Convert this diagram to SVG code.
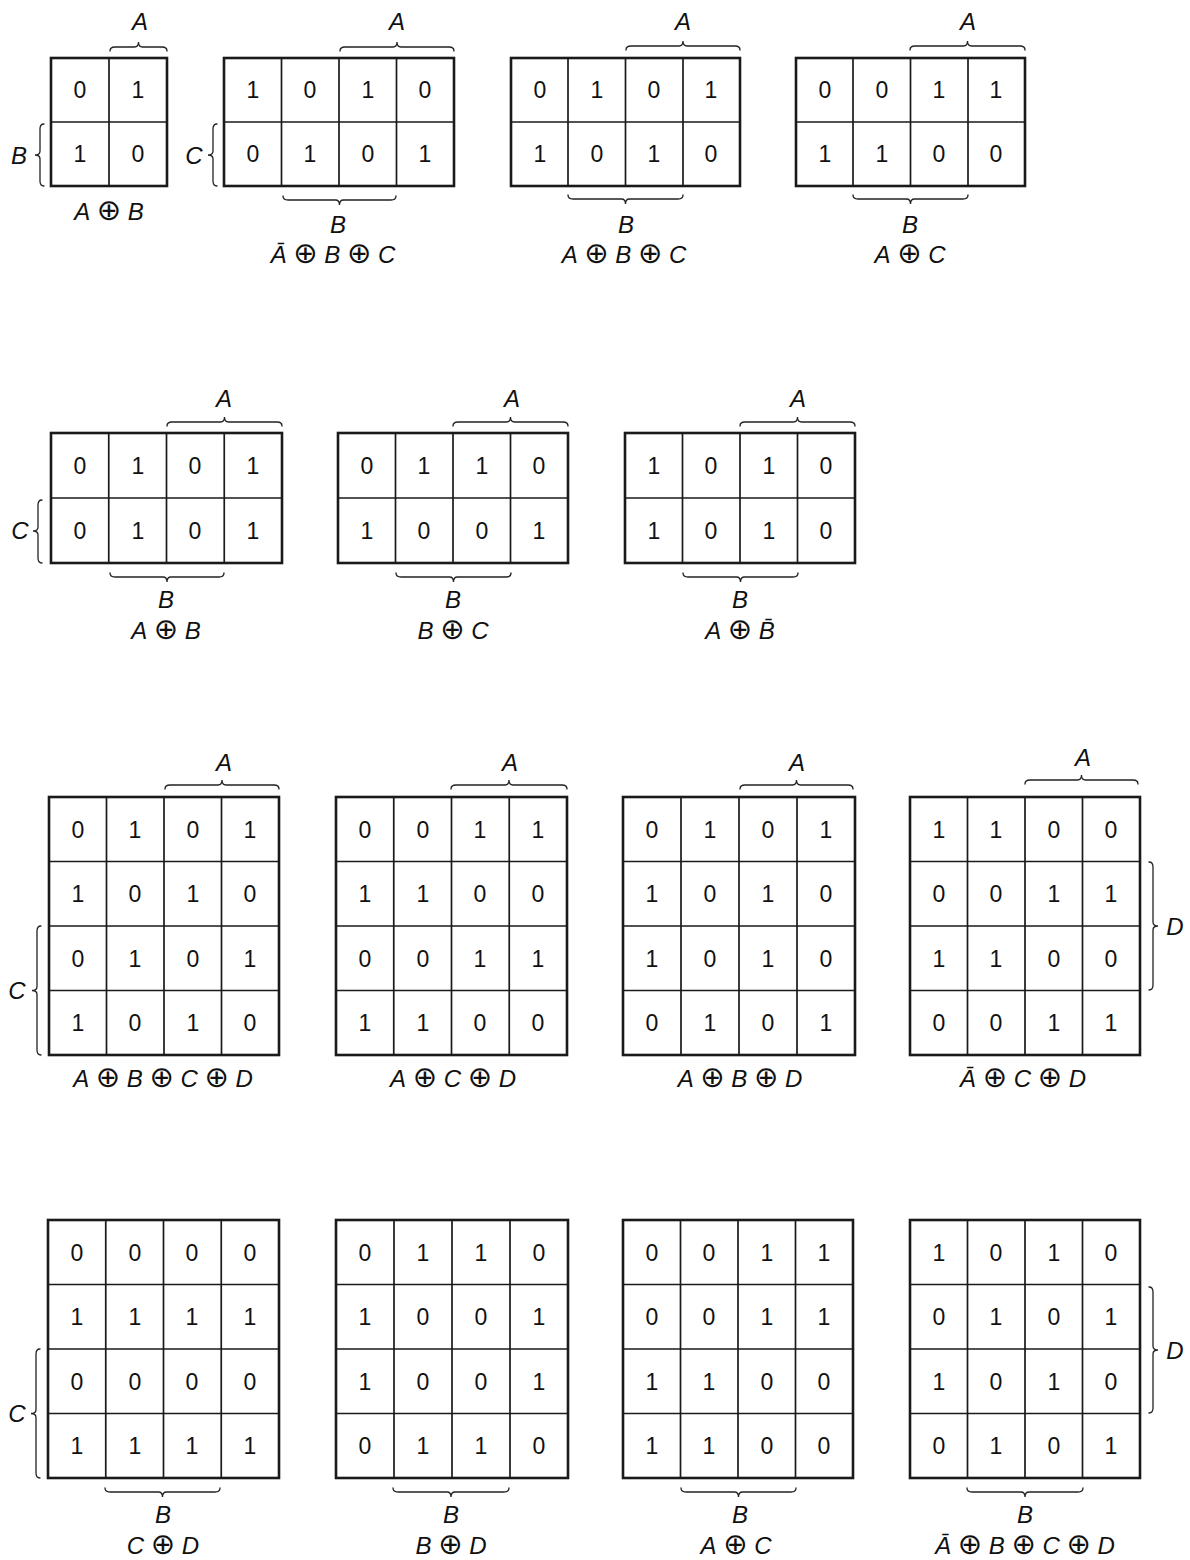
<svg xmlns="http://www.w3.org/2000/svg" width="1190" height="1560" viewBox="0 0 1190 1560">
<style>
.bg{fill:#fff}
.o{fill:none;stroke:#1a1a1a;stroke-width:2.6}
.g{fill:none;stroke:#1a1a1a;stroke-width:1.7}
.br{fill:none;stroke:#222;stroke-width:1.3;stroke-linecap:round}
.d{font-family:"Liberation Sans","DejaVu Sans",sans-serif;font-size:23px;fill:#111;text-anchor:middle}
.l{font-family:"Liberation Sans","DejaVu Sans",sans-serif;font-size:24px;font-style:italic;fill:#111;text-anchor:middle}
.f{font-family:"Liberation Sans","DejaVu Sans",sans-serif;font-size:24px;fill:#111;text-anchor:middle}
.i{font-style:italic}
.x{font-family:"DejaVu Sans",sans-serif;font-style:normal;font-size:29px}
</style>
<rect class="bg" width="1190" height="1560"/>

<g id="map-1">
<rect class="o" x="51" y="58" width="116" height="128"/>
<path class="g" d="M109 58V186M51 122H167"/>
<text class="d" x="80" y="98">0</text><text class="d" x="138" y="98">1</text>
<text class="d" x="80" y="162">1</text><text class="d" x="138" y="162">0</text>
<path class="br" d="M110 51q0-4 5-4H134.5q4 0 4-5q0 5 4 5H162q5 0 5 4"/>
<text class="l" x="140" y="30">A</text>
<path class="br" d="M44 124q-4 0-4 5V151q0 4-5 4q5 0 5 4V181q0 5 4 5"/>
<text class="l" x="19" y="164">B</text>
<text class="f" x="109" y="220"><tspan class="i">A</tspan> <tspan class="x">⊕</tspan> <tspan class="i">B</tspan></text>
</g>

<g id="map-2">
<rect class="o" x="224" y="58" width="230" height="128"/>
<path class="g" d="M281.5 58V186M339 58V186M396.5 58V186M224 122H454"/>
<text class="d" x="253" y="98">1</text><text class="d" x="310" y="98">0</text><text class="d" x="368" y="98">1</text><text class="d" x="425" y="98">0</text>
<text class="d" x="253" y="162">0</text><text class="d" x="310" y="162">1</text><text class="d" x="368" y="162">0</text><text class="d" x="425" y="162">1</text>
<path class="br" d="M340 51q0-4 5-4H393q4 0 4-5q0 5 4 5H449q5 0 5 4"/>
<text class="l" x="397" y="30">A</text>
<path class="br" d="M217 124q-4 0-4 5V151q0 4-5 4q5 0 5 4V181q0 5 4 5"/>
<text class="l" x="194" y="164">C</text>
<path class="br" d="M283 196q0 4 5 4H335.5q4 0 4 5q0-5 4-5H391q5 0 5-4"/>
<text class="l" x="338" y="233">B</text>
<text class="f" x="333" y="263"><tspan class="i">Ā</tspan> <tspan class="x">⊕</tspan> <tspan class="i">B</tspan> <tspan class="x">⊕</tspan> <tspan class="i">C</tspan></text>
</g>

<g id="map-3">
<rect class="o" x="511" y="58" width="229" height="128"/>
<path class="g" d="M568 58V186M625.5 58V186M683 58V186M511 122H740"/>
<text class="d" x="540" y="98">0</text><text class="d" x="597" y="98">1</text><text class="d" x="654" y="98">0</text><text class="d" x="711" y="98">1</text>
<text class="d" x="540" y="162">1</text><text class="d" x="597" y="162">0</text><text class="d" x="654" y="162">1</text><text class="d" x="711" y="162">0</text>
<path class="br" d="M626 50q0-4 5-4H679q4 0 4-5q0 5 4 5H735q5 0 5 4"/>
<text class="l" x="683" y="30">A</text>
<path class="br" d="M568 195q0 4 5 4H621.5q4 0 4 5q0-5 4-5H678q5 0 5-4"/>
<text class="l" x="626" y="233">B</text>
<text class="f" x="624" y="263"><tspan class="i">A</tspan> <tspan class="x">⊕</tspan> <tspan class="i">B</tspan> <tspan class="x">⊕</tspan> <tspan class="i">C</tspan></text>
</g>

<g id="map-4">
<rect class="o" x="796" y="58" width="229" height="128"/>
<path class="g" d="M853 58V186M910.5 58V186M968 58V186M796 122H1025"/>
<text class="d" x="825" y="98">0</text><text class="d" x="882" y="98">0</text><text class="d" x="939" y="98">1</text><text class="d" x="996" y="98">1</text>
<text class="d" x="825" y="162">1</text><text class="d" x="882" y="162">1</text><text class="d" x="939" y="162">0</text><text class="d" x="996" y="162">0</text>
<path class="br" d="M910 50q0-4 5-4H963.5q4 0 4-5q0 5 4 5H1020q5 0 5 4"/>
<text class="l" x="968" y="30">A</text>
<path class="br" d="M853 195q0 4 5 4H906.5q4 0 4 5q0-5 4-5H963q5 0 5-4"/>
<text class="l" x="910" y="233">B</text>
<text class="f" x="910" y="263"><tspan class="i">A</tspan> <tspan class="x">⊕</tspan> <tspan class="i">C</tspan></text>
</g>

<g id="map-5">
<rect class="o" x="51" y="433" width="231" height="130"/>
<path class="g" d="M108.75 433V563M166.5 433V563M224.25 433V563M51 498H282"/>
<text class="d" x="80" y="474">0</text><text class="d" x="138" y="474">1</text><text class="d" x="195" y="474">0</text><text class="d" x="253" y="474">1</text>
<text class="d" x="80" y="539">0</text><text class="d" x="138" y="539">1</text><text class="d" x="195" y="539">0</text><text class="d" x="253" y="539">1</text>
<path class="br" d="M167 426q0-4 5-4H220.5q4 0 4-5q0 5 4 5H277q5 0 5 4"/>
<text class="l" x="224" y="407">A</text>
<path class="br" d="M42 500q-4 0-4 5V527q0 4-5 4q5 0 5 4V558q0 5 4 5"/>
<text class="l" x="20" y="539">C</text>
<path class="br" d="M110 573q0 4 5 4H163q4 0 4 5q0-5 4-5H219q5 0 5-4"/>
<text class="l" x="166" y="608">B</text>
<text class="f" x="166" y="639"><tspan class="i">A</tspan> <tspan class="x">⊕</tspan> <tspan class="i">B</tspan></text>
</g>

<g id="map-6">
<rect class="o" x="338" y="433" width="230" height="130"/>
<path class="g" d="M395.5 433V563M453 433V563M510.5 433V563M338 498H568"/>
<text class="d" x="367" y="474">0</text><text class="d" x="424" y="474">1</text><text class="d" x="482" y="474">1</text><text class="d" x="539" y="474">0</text>
<text class="d" x="367" y="539">1</text><text class="d" x="424" y="539">0</text><text class="d" x="482" y="539">0</text><text class="d" x="539" y="539">1</text>
<path class="br" d="M453 426q0-4 5-4H506.5q4 0 4-5q0 5 4 5H563q5 0 5 4"/>
<text class="l" x="512" y="407">A</text>
<path class="br" d="M396 573q0 4 5 4H449.5q4 0 4 5q0-5 4-5H506q5 0 5-4"/>
<text class="l" x="453" y="608">B</text>
<text class="f" x="453" y="639"><tspan class="i">B</tspan> <tspan class="x">⊕</tspan> <tspan class="i">C</tspan></text>
</g>

<g id="map-7">
<rect class="o" x="625" y="433" width="230" height="130"/>
<path class="g" d="M682.5 433V563M740 433V563M797.5 433V563M625 498H855"/>
<text class="d" x="654" y="474">1</text><text class="d" x="711" y="474">0</text><text class="d" x="769" y="474">1</text><text class="d" x="826" y="474">0</text>
<text class="d" x="654" y="539">1</text><text class="d" x="711" y="539">0</text><text class="d" x="769" y="539">1</text><text class="d" x="826" y="539">0</text>
<path class="br" d="M740 426q0-4 5-4H793.5q4 0 4-5q0 5 4 5H850q5 0 5 4"/>
<text class="l" x="798" y="407">A</text>
<path class="br" d="M683 573q0 4 5 4H736.5q4 0 4 5q0-5 4-5H793q5 0 5-4"/>
<text class="l" x="740" y="608">B</text>
<text class="f" x="740" y="639"><tspan class="i">A</tspan> <tspan class="x">⊕</tspan> <tspan class="i">B̄</tspan></text>
</g>

<g id="map-8">
<rect class="o" x="49" y="797" width="230" height="258"/>
<path class="g" d="M106.5 797V1055M164 797V1055M221.5 797V1055M49 861.5H279M49 926H279M49 990.5H279"/>
<text class="d" x="78" y="838">0</text><text class="d" x="135" y="838">1</text><text class="d" x="193" y="838">0</text><text class="d" x="250" y="838">1</text>
<text class="d" x="78" y="902">1</text><text class="d" x="135" y="902">0</text><text class="d" x="193" y="902">1</text><text class="d" x="250" y="902">0</text>
<text class="d" x="78" y="967">0</text><text class="d" x="135" y="967">1</text><text class="d" x="193" y="967">0</text><text class="d" x="250" y="967">1</text>
<text class="d" x="78" y="1031">1</text><text class="d" x="135" y="1031">0</text><text class="d" x="193" y="1031">1</text><text class="d" x="250" y="1031">0</text>
<path class="br" d="M165 789q0-4 5-4H218q4 0 4-5q0 5 4 5H274q5 0 5 4"/>
<text class="l" x="224" y="771">A</text>
<path class="br" d="M41 926q-4 0-4 5V986.5q0 4-5 4q5 0 5 4V1050q0 5 4 5"/>
<text class="l" x="17" y="999">C</text>
<text class="f" x="163" y="1087"><tspan class="i">A</tspan> <tspan class="x">⊕</tspan> <tspan class="i">B</tspan> <tspan class="x">⊕</tspan> <tspan class="i">C</tspan> <tspan class="x">⊕</tspan> <tspan class="i">D</tspan></text>
</g>

<g id="map-9">
<rect class="o" x="336" y="797" width="231" height="258"/>
<path class="g" d="M393.75 797V1055M451.5 797V1055M509.25 797V1055M336 861.5H567M336 926H567M336 990.5H567"/>
<text class="d" x="365" y="838">0</text><text class="d" x="423" y="838">0</text><text class="d" x="480" y="838">1</text><text class="d" x="538" y="838">1</text>
<text class="d" x="365" y="902">1</text><text class="d" x="423" y="902">1</text><text class="d" x="480" y="902">0</text><text class="d" x="538" y="902">0</text>
<text class="d" x="365" y="967">0</text><text class="d" x="423" y="967">0</text><text class="d" x="480" y="967">1</text><text class="d" x="538" y="967">1</text>
<text class="d" x="365" y="1031">1</text><text class="d" x="423" y="1031">1</text><text class="d" x="480" y="1031">0</text><text class="d" x="538" y="1031">0</text>
<path class="br" d="M451 789q0-4 5-4H505q4 0 4-5q0 5 4 5H562q5 0 5 4"/>
<text class="l" x="510" y="771">A</text>
<text class="f" x="453" y="1087"><tspan class="i">A</tspan> <tspan class="x">⊕</tspan> <tspan class="i">C</tspan> <tspan class="x">⊕</tspan> <tspan class="i">D</tspan></text>
</g>

<g id="map-10">
<rect class="o" x="623" y="797" width="232" height="258"/>
<path class="g" d="M681 797V1055M739 797V1055M797 797V1055M623 861.5H855M623 926H855M623 990.5H855"/>
<text class="d" x="652" y="838">0</text><text class="d" x="710" y="838">1</text><text class="d" x="768" y="838">0</text><text class="d" x="826" y="838">1</text>
<text class="d" x="652" y="902">1</text><text class="d" x="710" y="902">0</text><text class="d" x="768" y="902">1</text><text class="d" x="826" y="902">0</text>
<text class="d" x="652" y="967">1</text><text class="d" x="710" y="967">0</text><text class="d" x="768" y="967">1</text><text class="d" x="826" y="967">0</text>
<text class="d" x="652" y="1031">0</text><text class="d" x="710" y="1031">1</text><text class="d" x="768" y="1031">0</text><text class="d" x="826" y="1031">1</text>
<path class="br" d="M740 789q0-4 5-4H792.5q4 0 4-5q0 5 4 5H848q5 0 5 4"/>
<text class="l" x="797" y="771">A</text>
<text class="f" x="740" y="1087"><tspan class="i">A</tspan> <tspan class="x">⊕</tspan> <tspan class="i">B</tspan> <tspan class="x">⊕</tspan> <tspan class="i">D</tspan></text>
</g>

<g id="map-11">
<rect class="o" x="910" y="797" width="230" height="258"/>
<path class="g" d="M967.5 797V1055M1025 797V1055M1082.5 797V1055M910 861.5H1140M910 926H1140M910 990.5H1140"/>
<text class="d" x="939" y="838">1</text><text class="d" x="996" y="838">1</text><text class="d" x="1054" y="838">0</text><text class="d" x="1111" y="838">0</text>
<text class="d" x="939" y="902">0</text><text class="d" x="996" y="902">0</text><text class="d" x="1054" y="902">1</text><text class="d" x="1111" y="902">1</text>
<text class="d" x="939" y="967">1</text><text class="d" x="996" y="967">1</text><text class="d" x="1054" y="967">0</text><text class="d" x="1111" y="967">0</text>
<text class="d" x="939" y="1031">0</text><text class="d" x="996" y="1031">0</text><text class="d" x="1054" y="1031">1</text><text class="d" x="1111" y="1031">1</text>
<path class="br" d="M1025 784q0-4 5-4H1077.5q4 0 4-5q0 5 4 5H1133q5 0 5 4"/>
<text class="l" x="1083" y="766">A</text>
<path class="br" d="M1149 862q4 0 4 5V922q0 4 5 4q-5 0-5 4V985q0 5-4 5"/>
<text class="l" x="1175" y="935">D</text>
<text class="f" x="1023" y="1087"><tspan class="i">Ā</tspan> <tspan class="x">⊕</tspan> <tspan class="i">C</tspan> <tspan class="x">⊕</tspan> <tspan class="i">D</tspan></text>
</g>

<g id="map-12">
<rect class="o" x="48" y="1220" width="231" height="258"/>
<path class="g" d="M105.75 1220V1478M163.5 1220V1478M221.25 1220V1478M48 1284.5H279M48 1349H279M48 1413.5H279"/>
<text class="d" x="77" y="1261">0</text><text class="d" x="135" y="1261">0</text><text class="d" x="192" y="1261">0</text><text class="d" x="250" y="1261">0</text>
<text class="d" x="77" y="1325">1</text><text class="d" x="135" y="1325">1</text><text class="d" x="192" y="1325">1</text><text class="d" x="250" y="1325">1</text>
<text class="d" x="77" y="1390">0</text><text class="d" x="135" y="1390">0</text><text class="d" x="192" y="1390">0</text><text class="d" x="250" y="1390">0</text>
<text class="d" x="77" y="1454">1</text><text class="d" x="135" y="1454">1</text><text class="d" x="192" y="1454">1</text><text class="d" x="250" y="1454">1</text>
<path class="br" d="M40 1349q-4 0-4 5V1409.5q0 4-5 4q5 0 5 4V1473q0 5 4 5"/>
<text class="l" x="17" y="1422">C</text>
<path class="br" d="M105 1488q0 4 5 4H158.5q4 0 4 5q0-5 4-5H215q5 0 5-4"/>
<text class="l" x="163" y="1523">B</text>
<text class="f" x="163" y="1554"><tspan class="i">C</tspan> <tspan class="x">⊕</tspan> <tspan class="i">D</tspan></text>
</g>

<g id="map-13">
<rect class="o" x="336" y="1220" width="232" height="258"/>
<path class="g" d="M394 1220V1478M452 1220V1478M510 1220V1478M336 1284.5H568M336 1349H568M336 1413.5H568"/>
<text class="d" x="365" y="1261">0</text><text class="d" x="423" y="1261">1</text><text class="d" x="481" y="1261">1</text><text class="d" x="539" y="1261">0</text>
<text class="d" x="365" y="1325">1</text><text class="d" x="423" y="1325">0</text><text class="d" x="481" y="1325">0</text><text class="d" x="539" y="1325">1</text>
<text class="d" x="365" y="1390">1</text><text class="d" x="423" y="1390">0</text><text class="d" x="481" y="1390">0</text><text class="d" x="539" y="1390">1</text>
<text class="d" x="365" y="1454">0</text><text class="d" x="423" y="1454">1</text><text class="d" x="481" y="1454">1</text><text class="d" x="539" y="1454">0</text>
<path class="br" d="M393 1488q0 4 5 4H447q4 0 4 5q0-5 4-5H504q5 0 5-4"/>
<text class="l" x="451" y="1523">B</text>
<text class="f" x="451" y="1554"><tspan class="i">B</tspan> <tspan class="x">⊕</tspan> <tspan class="i">D</tspan></text>
</g>

<g id="map-14">
<rect class="o" x="623" y="1220" width="230" height="258"/>
<path class="g" d="M680.5 1220V1478M738 1220V1478M795.5 1220V1478M623 1284.5H853M623 1349H853M623 1413.5H853"/>
<text class="d" x="652" y="1261">0</text><text class="d" x="709" y="1261">0</text><text class="d" x="767" y="1261">1</text><text class="d" x="824" y="1261">1</text>
<text class="d" x="652" y="1325">0</text><text class="d" x="709" y="1325">0</text><text class="d" x="767" y="1325">1</text><text class="d" x="824" y="1325">1</text>
<text class="d" x="652" y="1390">1</text><text class="d" x="709" y="1390">1</text><text class="d" x="767" y="1390">0</text><text class="d" x="824" y="1390">0</text>
<text class="d" x="652" y="1454">1</text><text class="d" x="709" y="1454">1</text><text class="d" x="767" y="1454">0</text><text class="d" x="824" y="1454">0</text>
<path class="br" d="M681 1488q0 4 5 4H734.5q4 0 4 5q0-5 4-5H791q5 0 5-4"/>
<text class="l" x="740" y="1523">B</text>
<text class="f" x="736" y="1554"><tspan class="i">A</tspan> <tspan class="x">⊕</tspan> <tspan class="i">C</tspan></text>
</g>

<g id="map-15">
<rect class="o" x="910" y="1220" width="230" height="258"/>
<path class="g" d="M967.5 1220V1478M1025 1220V1478M1082.5 1220V1478M910 1284.5H1140M910 1349H1140M910 1413.5H1140"/>
<text class="d" x="939" y="1261">1</text><text class="d" x="996" y="1261">0</text><text class="d" x="1054" y="1261">1</text><text class="d" x="1111" y="1261">0</text>
<text class="d" x="939" y="1325">0</text><text class="d" x="996" y="1325">1</text><text class="d" x="1054" y="1325">0</text><text class="d" x="1111" y="1325">1</text>
<text class="d" x="939" y="1390">1</text><text class="d" x="996" y="1390">0</text><text class="d" x="1054" y="1390">1</text><text class="d" x="1111" y="1390">0</text>
<text class="d" x="939" y="1454">0</text><text class="d" x="996" y="1454">1</text><text class="d" x="1054" y="1454">0</text><text class="d" x="1111" y="1454">1</text>
<path class="br" d="M1149 1287q4 0 4 5V1346q0 4 5 4q-5 0-5 4V1408q0 5-4 5"/>
<text class="l" x="1175" y="1359">D</text>
<path class="br" d="M967 1488q0 4 5 4H1021q4 0 4 5q0-5 4-5H1078q5 0 5-4"/>
<text class="l" x="1025" y="1523">B</text>
<text class="f" x="1025" y="1554"><tspan class="i">Ā</tspan> <tspan class="x">⊕</tspan> <tspan class="i">B</tspan> <tspan class="x">⊕</tspan> <tspan class="i">C</tspan> <tspan class="x">⊕</tspan> <tspan class="i">D</tspan></text>
</g>
</svg>
